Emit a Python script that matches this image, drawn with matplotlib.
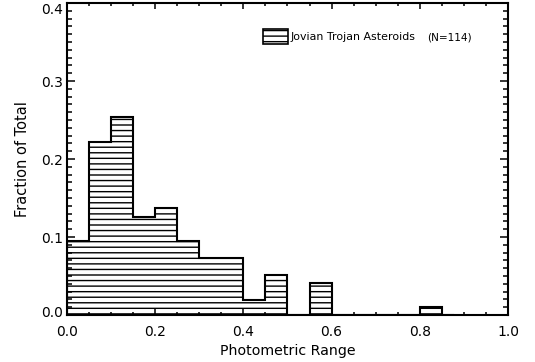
import numpy as np
import matplotlib
matplotlib.use("Agg")
import matplotlib.pyplot as plt
from matplotlib.patches import Rectangle
from matplotlib.ticker import MultipleLocator
from matplotlib.transforms import ScaledTranslation

# Histogram of photometric ranges, 0.05-wide bins
bin_edges = [0.00, 0.05, 0.10, 0.15, 0.20, 0.25, 0.30, 0.35, 0.40, 0.45,
             0.50, 0.55, 0.60, 0.65, 0.70, 0.75, 0.80, 0.85]
fractions = [0.095, 0.222, 0.254, 0.126, 0.137, 0.095, 0.073, 0.073, 0.019,
             0.051, 0.000, 0.041, 0.000, 0.000, 0.000, 0.000, 0.0098]
range_max = 0.875          # largest photometric range in the sample
series_label = "Jovian Trojan Asteroids"
count_label = "(N=114)"

x_ticks = [0.0, 0.2, 0.4, 0.6, 0.8, 1.0]
y_ticks = [0.0, 0.1, 0.2, 0.3, 0.4]

plt.rcParams["font.family"] = ["DejaVu Sans"]
plt.rcParams["hatch.linewidth"] = 1.0

fig = plt.figure(figsize=(5.35, 3.62), dpi=100)
ax = fig.add_axes([0.1252, 0.1298, 0.9495 - 0.1252, 0.9917 - 0.1298])

edges = np.array(bin_edges)
vals = np.array(fractions)

# step outline points with a closing run at zero
xs = np.concatenate([[edges[0]], np.repeat(edges, 2)[1:-1], [edges[-1], range_max]])
ys = np.concatenate([[0.0], np.repeat(vals, 2), [0.0, 0.0]])

# hatched fill under the histogram
ax.fill_between(edges, np.append(vals, 0.0), step="post",
                facecolor="white", edgecolor="black", hatch="---", linewidth=0)
ax.plot(xs, ys, color="black", linewidth=1.5, solid_joinstyle="miter", zorder=3)

ax.set_xlim(0.0, 1.0)
ax.set_ylim(0.0, 0.4)
ax.set_xticks(x_ticks)
ax.set_yticks(y_ticks)
ax.set_xticklabels([f"{v:.1f}" for v in x_ticks])
ax.set_yticklabels([f"{v:.1f}" for v in y_ticks])
ax.xaxis.set_minor_locator(MultipleLocator(0.05))
ax.yaxis.set_minor_locator(MultipleLocator(0.01))

ax.tick_params(axis="both", which="both", direction="in", top=True, right=True,
               labelsize=10, width=1.1, colors="black")
ax.tick_params(axis="x", which="major", length=4.2, pad=7)
ax.tick_params(axis="x", which="minor", length=2.4)
ax.tick_params(axis="y", which="major", length=5.8, pad=3)
ax.tick_params(axis="y", which="minor", length=3.3)
for s in ax.spines.values():
    s.set_linewidth(1.5)

# keep the end labels of the y axis inside the frame
yticks = ax.yaxis.get_major_ticks()
yticks[0].label1.set_transform(yticks[0].label1.get_transform()
                               + ScaledTranslation(0, 0.04, fig.dpi_scale_trans))
yticks[-1].label1.set_transform(yticks[-1].label1.get_transform()
                                + ScaledTranslation(0, -0.05, fig.dpi_scale_trans))

ax.set_xlabel("Photometric Range", fontsize=10.2, labelpad=4)
ax.set_ylabel("Fraction of Total", fontsize=10.5, labelpad=8)

# legend key drawn as a small hatched box with its label
ax.add_patch(Rectangle((0.4444, 0.8686), 0.0567, 0.0481, transform=ax.transAxes,
                       facecolor="white", edgecolor="black", hatch="---",
                       linewidth=1.2, zorder=4))
ax.text(0.508, 0.891, series_label, transform=ax.transAxes,
        fontsize=7.9, va="center", ha="left")
ax.text(0.817, 0.891, count_label, transform=ax.transAxes,
        fontsize=7.6, va="center", ha="left")

fig.savefig("out.png", dpi=100)
